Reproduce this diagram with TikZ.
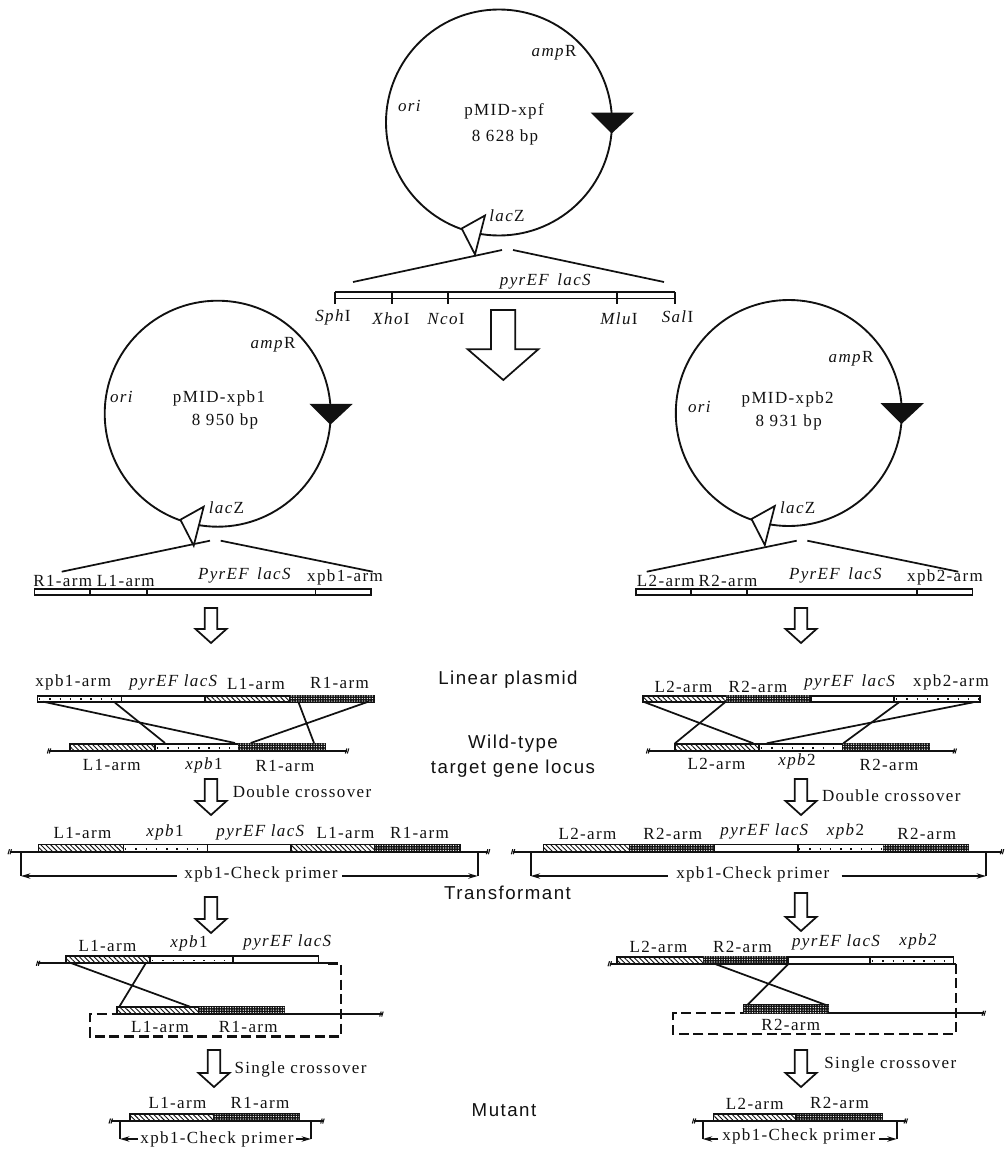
\documentclass[tikz,border=0pt]{standalone}
\usepackage{fontspec}
\setmainfont{Liberation Serif}[LetterSpace=8]
\setsansfont{Liberation Sans}[LetterSpace=8]
\usetikzlibrary{arrows.meta,patterns.meta}
\definecolor{geneink}{HTML}{111111}

\begin{document}
\begin{tikzpicture}[
  x=.75pt,y=-.75pt,
  font=\rmfamily\fontsize{12.75}{14}\selectfont,
  lbl/.style={inner sep=0pt,text=geneink},
  stage/.style={inner sep=0pt,text=geneink,align=center,
                font=\sffamily\fontsize{14}{18.5}\selectfont},
  wire/.style={draw=geneink,line width=1.3pt},
  primer/.style={wire,-{Stealth[length=7pt,width=4pt]}},
  blockarrow/.style={draw=geneink,line width=1.3pt,fill=white,line join=miter},
  plain/.style={draw=geneink,line width=1.2pt,fill=white},
  hatched/.style={plain,pattern={Lines[angle=-45,distance=2.6pt,line width=.7pt]},
                  pattern color=geneink},
  speckle/.style={draw=geneink,line width=1.1pt,dash pattern=on 1.1pt off 6.6pt},
  dense/.style={draw=geneink,line width=1.2pt,fill=geneink,
                postaction={pattern={Dots[distance=1.9pt,radius=.5pt]},pattern color=white}}
]
  \path[use as bounding box] (0,0) rectangle (1005,1152);

  % the three plasmid rings
  \foreach \cx/\cy in {499/122.5,217.7/413.7,788.8/413}{
    \draw[wire,line width=1.4pt] (\cx,\cy) circle (113);
    \draw[wire,fill=white,line join=miter] (\cx-37.3,\cy+106) -- (\cx-14,\cy+93)
      -- (\cx-24,\cy+132) -- cycle;
    \fill[geneink] (\cx+91.7,\cy-9.8) -- (\cx+135,\cy-9.8) -- (\cx+112.7,\cy+11) -- cycle;
  }
  \foreach \x/\y/\txt [count=\i] in {
    504/111/pMID-xpf,505/137/8 628 bp,554/53/\textit{amp}R,410/106/\textit{ori},507/216/\textit{lac}Z,
    219/398/pMID-xpb1,225/421/8 950 bp,273/345/\textit{amp}R,122/397/\textit{ori},226.5/508/\textit{lac}Z,
    787.7/399/pMID-xpb2,788.7/422/8 931 bp,851/359/\textit{amp}R,700/406.7/\textit{ori},797.7/508/\textit{lac}Z}{
    \node[lbl] (ring\i) at (\x,\y) {\txt};
  }

  % wedges from the ring down to the insert
  \foreach \xa/\ya/\xb/\yb in {
    353/282/502/250,513/250/664/282,
    61.7/571.7/210/540.7,220.7/540.7/372.7/571.7,
    646.7/571.7/796.7/540.7,807.3/540.7/958.3/571.7}{
    \draw[wire] (\xa,\ya) -- (\xb,\yb);
  }

  % restriction map under the top plasmid
  \draw[wire] (335,292) -- (675,292) (335,298.5) -- (675,298.5);
  \foreach \x in {335,392.3,447.7,617.3,675}{
    \draw[wire] (\x,292) -- (\x,304);
  }
  \foreach \x/\y/\txt [count=\i] in {
    546/281/\textit{pyrEF\, lacS},333/317/\textit{Sph}I,391/319/\textit{Xho}I,
    446/319/\textit{Nco}I,619/319/\textit{Mlu}I,677.5/317/\textit{Sal}I}{
    \node[lbl] (site\i) at (\x,\y) {\txt};
  }
  \draw[blockarrow] (491,310) -- (515.3,310) -- (515.3,349.3) -- (538.3,349.3) -- (503.3,380)
    -- (467.7,349.3) -- (491,349.3) -- cycle;

  % small down arrows
  \foreach \x/\y/\h in {211/608/35,211/779/36,211/897/36,214/1050/37,
                        801/608/35,801/779/36,801/893/38,801/1050/37}{
    \draw[blockarrow] (\x-6.2,\y) -- (\x+6.2,\y) -- (\x+6.2,\y+\h-14) -- (\x+15.5,\y+\h-14)
      -- (\x,\y+\h) -- (\x-15.5,\y+\h-14) -- (\x-6.2,\y+\h-14) -- cycle;
  }

  % insert bars under the side plasmids
  \foreach \xa/\xb in {34.3/90,90/146.7,146.7/315.3,315.3/371,
                       635.7/691,691/746.7,746.7/916.7,916.7/972.3}{
    \draw[plain] (\xa,589) rectangle (\xb,595);
  }

  % gene blocks, all of them: x from, x to, top, bottom, filling
  \foreach \xa/\xb/\ya/\yb/\kind in {
    37.3/121.3/695.7/701.7/plain,121.3/205/695.7/701.7/plain,
    205/289.7/695.7/701.7/hatched,289.7/374.3/695.7/701.7/dense,
    70/155/743.7/751/hatched,155/238.3/743.7/751/plain,238.3/325/743.7/751/dense,
    38.3/123.3/844.3/851.7/hatched,123.3/207.3/844.3/851.7/plain,207.3/291/844.3/851.7/plain,
    291/375/844.3/851.7/hatched,375/460/844.3/851.7/dense,
    65.7/150/956/963.3/hatched,150/232.7/956/963.3/plain,232.7/318.3/956/963.3/plain,
    116.7/199/1006.7/1014/hatched,199/284.3/1006.7/1014/dense,
    130/213.3/1114/1121/hatched,213.3/299/1114/1121/dense,
    643/726.7/695.7/701.7/hatched,726.7/810.7/695.7/701.7/dense,
    810.7/894/695.7/701.7/plain,894/980/695.7/701.7/plain,
    675/759/743.7/751/hatched,759/842.7/743.7/751/plain,842.7/929.3/743.7/751/dense,
    543.3/629.3/844.3/851.7/hatched,629.3/714.3/844.3/851.7/dense,714.3/797.7/844.3/851.7/plain,
    797.7/883.3/844.3/851.7/plain,883.3/968.3/844.3/851.7/dense,
    616.7/703.3/956.7/963.7/hatched,703.3/787.7/956.7/963.7/dense,
    787.7/870/956.7/963.7/plain,870/953.3/956.7/963.7/plain,
    744/828.3/1005/1013.3/dense,
    713.3/796/1114/1121/hatched,796/882.3/1114/1121/dense}{
    \draw[\kind] (\xa,\ya) rectangle (\xb,\yb);
  }
  % sparse dots inside the target gene blocks
  \foreach \xa/\xb/\y in {39/120/699.2,157/237/748.2,125/206/848.8,152/231/960.4,
                          896/979/699.2,761/841/748.2,799/882/848.8,872/952/960.8}{
    \draw[speckle] (\xa,\y) -- (\xb,\y);
  }

  % chromosome lines with their cut marks
  \foreach \xa/\xb/\y in {49.3/347.3/751,10/488.3/851.7,38.3/328/963.3,111.7/381.7/1014,
                          111/322.7/1121,648.3/955/751,513.3/1002.3/851.7,610/955.7/963.7,
                          828/984/1013.3,694.3/906/1121}{
    \draw[wire] (\xa,\y) -- (\xb,\y);
  }
  \foreach \x/\y in {49.3/751,347.3/751,10/851.7,488.3/851.7,38.3/963.3,381.7/1014,
                     111/1121,322.7/1121,648.3/751,955/751,513.3/851.7,1002.3/851.7,
                     610/963.7,984/1013.3,694.3/1121,906/1121}{
    \draw[geneink,line width=.8pt] (\x-2,\y+2.5) -- (\x-.5,\y-2.5) (\x,\y+2.5) -- (\x+1.5,\y-2.5);
  }

  % crossing lines between the two molecules
  \foreach \xa/\ya/\xb/\yb in {
    43.3/701.7/235/743,115/702.7/165/743,298.3/701.7/314/743,368.3/701.7/250.7/743,
    643.3/701.7/753.3/743.3,725/702.3/675/743.3,899/702.3/843.3/743.3,973.3/702.3/766.7/743.3,
    71.7/963.3/190/1006.7,145.7/963.3/119.3/1006.7,
    713.3/963.3/826/1005,788.3/964/747.3/1005}{
    \draw[wire] (\xa,\ya) -- (\xb,\yb);
  }

  % loop-out outlines
  \draw[geneink,line width=1.9pt,dash pattern=on 7.5pt off 3.5pt]
    (328,963.3) -- (341,963.3) -- (341,1036.7) -- (90,1036.7) -- (90,1014) -- (106.7,1014);
  \draw[geneink,line width=1.3pt,dash pattern=on 7.5pt off 3.5pt]
    (955.7,963.7) -- (955.7,1034) -- (673.3,1034) -- (673.3,1013.3) -- (743.3,1013.3);

  % check primer brackets
  \foreach \xl/\xm/\xn/\xr/\ya/\yb/\tx/\ty [count=\i] in {
    21/176.7/342.3/477.7/851.7/876/261/874,
    530.7/667.7/841.7/986/851.7/876/752.8/874.7,
    120/137.7/296/311/1121/1139/217/1139.3,
    702.7/718.3/879/896.7/1121/1139/798.8/1136.7}{
    \draw[wire] (\xl,\ya) -- (\xl,\yb);
    \draw[wire] (\xr,\ya) -- (\xr,\yb);
    \draw[primer] (\xm,\yb) -- (\xl,\yb);
    \draw[primer] (\xn,\yb) -- (\xr,\yb);
    \node[lbl] (check\i) at (\tx,\ty) {xpb1-Check primer};
  }

  % arm labels
  \foreach \x/\y/\txt [count=\i] in {
    62.8/580.7/R1-arm,125.8/581/L1-arm,245/575/\textit{PyrEF\, lacS},345/577/xpb1-arm,
    665.8/580.7/L2-arm,728/581/R2-arm,836/575/\textit{PyrEF\, lacS},945/577/xpb2-arm,
    73.2/682.7/xpb1-arm,174/682.7/\textit{pyrEF lacS},256/684/L1-arm,339.5/683/R1-arm,
    111.8/765/L1-arm,204/765/\textit{xpb}1,285/766/R1-arm,
    683.5/686.7/L2-arm,758/687/R2-arm,850.3/682.7/\textit{pyrEF\, lacS},951/682.7/xpb2-arm,
    716.5/764/L2-arm,797/761.7/\textit{xpb}2,889/764.7/R2-arm,
    82.5/833/L1-arm,165/832/\textit{xpb}1,261/832.7/\textit{pyrEF lacS},345.5/833/L1-arm,419.5/833/R1-arm,
    587.5/834/L2-arm,672.8/834/R2-arm,765/831.7/\textit{pyrEF lacS},845.5/831/\textit{xpb}2,926.7/834/R2-arm,
    107.5/946/L1-arm,189/943/\textit{xpb}1,288/942.7/\textit{pyrEF lacS},
    160/1026.7/L1-arm,248.3/1027/R1-arm,177.5/1103/L1-arm,260/1102.7/R1-arm,
    658.5/947.3/L2-arm,742.5/947/R2-arm,836.7/942.7/\textit{pyrEF lacS},918.7/941/\textit{xpb2},
    790.8/1025/R2-arm,754.8/1104/L2-arm,839.5/1103/R2-arm,
    302/791.7/Double crossover,891.3/795.7/Double crossover,
    300.5/1069/Single crossover,890.3/1064/Single crossover}{
    \node[lbl] (arm\i) at (\x,\y) {\txt};
  }

  \node[stage] (linear) at (508,680) {Linear plasmid};
  \node[stage] (wild) at (513,756) {Wild-type\\target gene locus};
  \node[stage] (transformant) at (507.5,893) {Transformant};
  \node[stage] (mutant) at (504,1110) {Mutant};
\end{tikzpicture}
\end{document}
